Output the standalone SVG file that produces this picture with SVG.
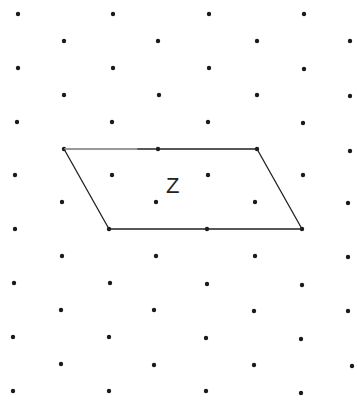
<svg xmlns="http://www.w3.org/2000/svg" width="357" height="402" viewBox="0 0 357 402">
<style>
.d{fill:#1a1a1a}
.e{fill:none;stroke:#222;stroke-width:1.3;stroke-linecap:round;stroke-linejoin:round}
.t{font-family:"Liberation Sans",Arial,sans-serif;font-size:22px;fill:#222}
</style>
<rect width="357" height="402" fill="#fff"/>
<g id="dots">
<circle class="d" cx="18" cy="14" r="2.2"/><circle class="d" cx="113" cy="14" r="2.2"/><circle class="d" cx="209" cy="14" r="2.2"/><circle class="d" cx="304" cy="14" r="2.2"/>
<circle class="d" cx="64" cy="41" r="2.2"/><circle class="d" cx="158" cy="41" r="2.2"/><circle class="d" cx="257" cy="41" r="2.2"/><circle class="d" cx="350" cy="41" r="2.2"/>
<circle class="d" cx="18" cy="68" r="2.2"/><circle class="d" cx="113" cy="68" r="2.2"/><circle class="d" cx="209" cy="68" r="2.2"/><circle class="d" cx="304" cy="69" r="2.2"/>
<circle class="d" cx="64" cy="95" r="2.2"/><circle class="d" cx="159" cy="95" r="2.2"/><circle class="d" cx="257" cy="95" r="2.2"/><circle class="d" cx="350" cy="96" r="2.2"/>
<circle class="d" cx="17" cy="122" r="2.2"/><circle class="d" cx="112" cy="122" r="2.2"/><circle class="d" cx="208" cy="122" r="2.2"/><circle class="d" cx="303" cy="123" r="2.2"/>
<circle class="d" cx="64" cy="149" r="2.2"/><circle class="d" cx="158" cy="149" r="2.2"/><circle class="d" cx="257" cy="149" r="2.2"/><circle class="d" cx="350" cy="151" r="2.2"/>
<circle class="d" cx="15" cy="175" r="2.2"/><circle class="d" cx="112" cy="175" r="2.2"/><circle class="d" cx="208" cy="175" r="2.2"/><circle class="d" cx="303" cy="175" r="2.2"/>
<circle class="d" cx="62" cy="202" r="2.2"/><circle class="d" cx="156" cy="202" r="2.2"/><circle class="d" cx="255" cy="202" r="2.2"/><circle class="d" cx="348" cy="203" r="2.2"/>
<circle class="d" cx="15" cy="229" r="2.2"/><circle class="d" cx="109" cy="229" r="2.2"/><circle class="d" cx="207" cy="229" r="2.2"/><circle class="d" cx="302" cy="229" r="2.2"/>
<circle class="d" cx="62" cy="256" r="2.2"/><circle class="d" cx="156" cy="256" r="2.2"/><circle class="d" cx="255" cy="256" r="2.2"/><circle class="d" cx="348" cy="257" r="2.2"/>
<circle class="d" cx="14" cy="283" r="2.2"/><circle class="d" cx="110" cy="283" r="2.2"/><circle class="d" cx="207" cy="284" r="2.2"/><circle class="d" cx="302" cy="285" r="2.2"/>
<circle class="d" cx="61" cy="310" r="2.2"/><circle class="d" cx="154" cy="310" r="2.2"/><circle class="d" cx="254" cy="311" r="2.2"/><circle class="d" cx="348" cy="311" r="2.2"/>
<circle class="d" cx="13" cy="337" r="2.2"/><circle class="d" cx="109" cy="337" r="2.2"/><circle class="d" cx="206" cy="338" r="2.2"/><circle class="d" cx="301" cy="339" r="2.2"/>
<circle class="d" cx="61" cy="364" r="2.2"/><circle class="d" cx="154" cy="365" r="2.2"/><circle class="d" cx="254" cy="365" r="2.2"/><circle class="d" cx="352" cy="366" r="2.2"/>
<circle class="d" cx="13" cy="391" r="2.2"/><circle class="d" cx="109" cy="391" r="2.2"/><circle class="d" cx="206" cy="391" r="2.2"/><circle class="d" cx="301" cy="393" r="2.2"/>
</g>
<g id="shape-Z">
<line x1="64" y1="149" x2="138" y2="149" stroke="#999" stroke-width="2"/>
<path class="e" d="M138 149 L257 149 L302 229 L109 229 L64 149"/>
<text class="t" x="166" y="193">Z</text>
</g>
</svg>
